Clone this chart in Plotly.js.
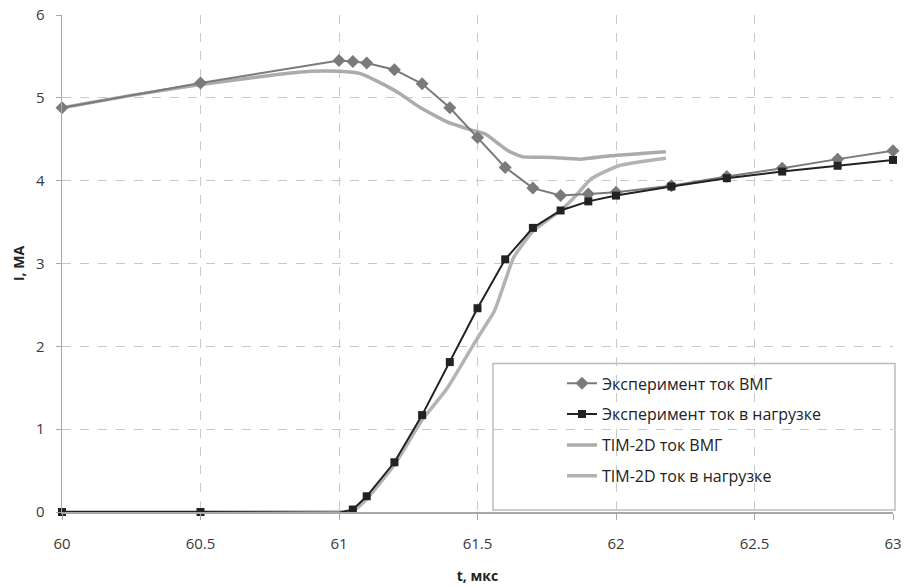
<!DOCTYPE html>
<html>
<head>
<meta charset="utf-8">
<script src="https://cdn.plot.ly/plotly-3.0.1.min.js"></script>
<style>html,body{margin:0;padding:0;background:#fff;}#chart{width:905px;height:587px;}</style>
</head>
<body>
<div id="chart"></div>
<script>
// Experiment: generator (ВМГ) current
const expGenT = [60, 60.5, 61, 61.05, 61.1, 61.2, 61.3, 61.4, 61.5, 61.6, 61.7, 61.8, 61.9, 62, 62.2, 62.4, 62.6, 62.8, 63];
const expGenI = [4.88, 5.18, 5.45, 5.44, 5.42, 5.34, 5.17, 4.88, 4.52, 4.16, 3.91, 3.82, 3.84, 3.86, 3.94, 4.05, 4.15, 4.26, 4.36];
// Experiment: load current
const expLoadT = [60, 60.5, 61, 61.05, 61.1, 61.2, 61.3, 61.4, 61.5, 61.6, 61.7, 61.8, 61.9, 62, 62.2, 62.4, 62.6, 62.8, 63];
const expLoadI = [0, 0, -0.01, 0.03, 0.19, 0.6, 1.17, 1.81, 2.46, 3.05, 3.43, 3.64, 3.75, 3.82, 3.93, 4.03, 4.11, 4.18, 4.25];
// TIM-2D: generator current
const timGenT = [60, 60.25, 60.5, 60.75, 60.9, 61, 61.08, 61.15, 61.22, 61.29, 61.39, 61.48, 61.53, 61.57, 61.61, 61.66, 61.77, 61.87, 61.98, 62.18];
const timGenI = [4.88, 5.03, 5.16, 5.27, 5.32, 5.32, 5.29, 5.18, 5.05, 4.89, 4.71, 4.61, 4.56, 4.46, 4.36, 4.29, 4.28, 4.26, 4.30, 4.35];
// TIM-2D: load current
const timLoadT = [60, 60.5, 61, 61.05, 61.1, 61.2, 61.3, 61.39, 61.5, 61.56, 61.6, 61.63, 61.7, 61.8, 61.85, 61.91, 62.01, 62.18];
const timLoadI = [0, 0, 0, 0.01, 0.16, 0.57, 1.11, 1.49, 2.10, 2.42, 2.79, 3.07, 3.39, 3.64, 3.80, 4.02, 4.18, 4.27];

const xTicks = [60, 60.5, 61, 61.5, 62, 62.5, 63];
const xTickText = ["60", "60.5", "61", "61.5", "62", "62.5", "63"];
const yTicks = [0, 1, 2, 3, 4, 5, 6];

const names = ["Эксперимент ток ВМГ", "Эксперимент ток в нагрузке", "TIM-2D ток ВМГ", "TIM-2D ток в нагрузке"];

const traces = [
  {x: timGenT, y: timGenI, name: names[2], mode: "lines", line: {color: "#ababab", width: 3.5, shape: "spline", smoothing: 0.5}, legendrank: 3, legendgroup: "c", cliponaxis: false},
  {x: timLoadT, y: timLoadI, name: names[3], mode: "lines", line: {color: "#b3b3b3", width: 3.5, shape: "spline", smoothing: 0.5}, legendrank: 4, legendgroup: "d", cliponaxis: false},
  {x: expGenT, y: expGenI, name: names[0], mode: "lines+markers", line: {color: "#7a7a7a", width: 2}, marker: {symbol: "diamond", size: 10, color: "#7a7a7a"}, legendrank: 1, legendgroup: "a", cliponaxis: false},
  {x: expLoadT, y: expLoadI, name: names[1], mode: "lines+markers", line: {color: "#222222", width: 2}, marker: {symbol: "square", size: 8, color: "#222222"}, legendrank: 2, legendgroup: "b", cliponaxis: false}
];

const layout = {
  width: 905, height: 587,
  margin: {l: 62, r: 12, t: 15, b: 75},
  paper_bgcolor: "#ffffff", plot_bgcolor: "#ffffff",
  font: {family: "Open Sans, Lato, sans-serif", size: 14, color: "#3a3a3a"},
  showlegend: true,
  legend: {
    x: (562 - 62) / 831, y: (510 - 365) / 495, xanchor: "left", yanchor: "top",
    bgcolor: "rgba(0,0,0,0)", borderwidth: 0,
    font: {family: "Open Sans, sans-serif", size: 16, color: "#222"},
    tracegroupgap: 7, traceorder: "grouped"
  },
  shapes: [{
    type: "rect", xref: "paper", yref: "paper",
    x0: (493 - 62) / 831, x1: (895 - 62) / 831,
    y0: (510 - 508) / 495, y1: (510 - 362) / 495,
    line: {color: "#bdbdbd", width: 1.5}, fillcolor: "#ffffff", layer: "below"
  }],
  xaxis: {
    range: [60, 63], tickvals: xTicks, ticktext: xTickText,
    showgrid: true, gridcolor: "#c8c8c8", griddash: "dash", gridwidth: 1,
    showline: true, linecolor: "#a8a8a8", linewidth: 1.5,
    ticks: "outside", ticklen: 6, tickcolor: "#a8a8a8",
    ticklabelstandoff: 11,
    zeroline: false,
    tickfont: {size: 15, color: "#3a3a3a"},
    title: {text: "<b>t, мкс</b>", font: {size: 14, color: "#222"}, standoff: 19}
  },
  yaxis: {
    range: [0, 6], tickvals: yTicks,
    showgrid: true, gridcolor: "#c8c8c8", griddash: "dash", gridwidth: 1,
    showline: true, linecolor: "#a8a8a8", linewidth: 1.5,
    ticks: "outside", ticklen: 5, tickcolor: "#a8a8a8",
    ticklabelstandoff: 8,
    zeroline: false,
    tickfont: {size: 15, color: "#3a3a3a"},
    title: {text: "<b>I, MA</b>", font: {size: 14, color: "#222"}, standoff: 8}
  }
};

Plotly.newPlot("chart", traces, layout, {displayModeBar: false, staticPlot: true});
</script>
</body>
</html>
